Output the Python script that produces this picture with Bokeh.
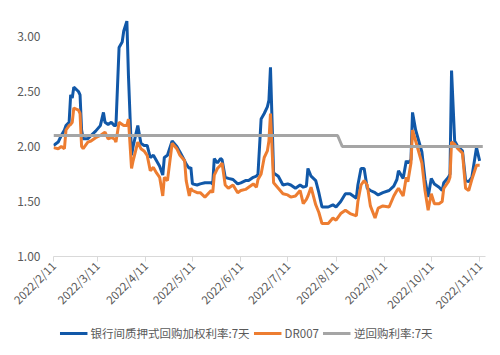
import math
import pandas as pd
from bokeh.plotting import figure
from bokeh.layouts import column
from bokeh.models import (Range1d, FixedTicker, CustomJSTickFormatter, NumeralTickFormatter,
                          Legend, LegendItem, ColumnDataSource)
from bokeh.embed import file_html
from bokeh.resources import INLINE

dates = ["2022-02-11", "2022-02-14", "2022-02-16", "2022-02-18", "2022-02-19", "2022-02-21",
         "2022-02-22", "2022-02-23", "2022-02-24", "2022-02-27", "2022-02-28", "2022-03-01",
         "2022-03-02", "2022-03-05", "2022-03-07", "2022-03-10", "2022-03-13", "2022-03-15",
         "2022-03-16", "2022-03-18", "2022-03-20", "2022-03-22", "2022-03-23", "2022-03-25",
         "2022-03-27", "2022-03-28", "2022-03-30", "2022-03-31", "2022-04-02", "2022-04-03",
         "2022-04-06", "2022-04-08", "2022-04-10", "2022-04-12", "2022-04-14", "2022-04-16",
         "2022-04-18", "2022-04-20", "2022-04-22", "2022-04-23", "2022-04-25", "2022-04-28",
         "2022-05-01", "2022-05-03", "2022-05-06", "2022-05-07", "2022-05-09", "2022-05-10",
         "2022-05-11", "2022-05-14", "2022-05-16", "2022-05-19", "2022-05-23", "2022-05-24",
         "2022-05-25", "2022-05-27", "2022-05-29", "2022-05-30", "2022-06-01", "2022-06-03",
         "2022-06-06", "2022-06-09", "2022-06-11", "2022-06-14", "2022-06-16", "2022-06-19",
         "2022-06-21", "2022-06-22", "2022-06-24", "2022-06-26", "2022-06-28", "2022-06-29",
         "2022-06-30", "2022-07-02", "2022-07-05", "2022-07-08", "2022-07-11", "2022-07-13",
         "2022-07-16", "2022-07-19", "2022-07-21", "2022-07-23", "2022-07-24", "2022-07-26",
         "2022-07-29", "2022-07-31", "2022-08-02", "2022-08-06", "2022-08-09", "2022-08-11",
         "2022-08-14", "2022-08-17", "2022-08-20", "2022-08-24", "2022-08-25", "2022-08-27",
         "2022-08-29", "2022-08-31", "2022-09-02", "2022-09-05", "2022-09-07", "2022-09-10",
         "2022-09-14", "2022-09-17", "2022-09-19", "2022-09-20", "2022-09-23", "2022-09-25",
         "2022-09-26", "2022-09-28", "2022-09-29", "2022-10-01", "2022-10-05", "2022-10-07",
         "2022-10-09", "2022-10-11", "2022-10-13", "2022-10-16", "2022-10-18", "2022-10-19",
         "2022-10-22", "2022-10-23", "2022-10-24", "2022-10-26", "2022-10-28", "2022-10-31",
         "2022-11-02", "2022-11-04", "2022-11-06", "2022-11-09", "2022-11-11"]

repo_7d = [2.01, 2.04, 2.10, 2.15, 2.19, 2.22,
           2.47, 2.44, 2.54, 2.50, 2.47, 2.15,
           2.07, 2.07, 2.10, 2.14, 2.19, 2.31,
           2.22, 2.20, 2.22, 2.19, 2.19, 2.90,
           2.95, 3.05, 3.14, 2.65, 1.92, 2.00,
           2.19, 2.03, 2.01, 2.01, 1.90, 1.92,
           1.87, 1.82, 1.74, 1.90, 1.92, 2.05,
           2.00, 1.95, 1.87, 1.84, 1.80, 1.81,
           1.66, 1.65, 1.66, 1.67, 1.67, 1.66,
           1.89, 1.85, 1.89, 1.88, 1.72, 1.71,
           1.70, 1.66, 1.67, 1.69, 1.69, 1.72,
           1.73, 1.75, 2.25, 2.30, 2.36, 2.42,
           2.72, 1.76, 1.73, 1.65, 1.66, 1.65,
           1.62, 1.65, 1.63, 1.64, 1.80, 1.73,
           1.69, 1.58, 1.45, 1.45, 1.47, 1.45,
           1.50, 1.57, 1.57, 1.53, 1.65, 1.80,
           1.80, 1.62, 1.60, 1.58, 1.56, 1.58,
           1.60, 1.64, 1.70, 1.78, 1.71, 1.87,
           1.85, 1.88, 2.31, 2.15, 1.95, 1.70,
           1.54, 1.71, 1.66, 1.63, 1.60, 1.67,
           1.72, 1.75, 2.69, 2.05, 2.00, 1.96,
           1.69, 1.68, 1.72, 1.99, 1.87]

dr007 = [1.99, 1.98, 2.00, 1.98, 2.15, 2.19,
         2.20, 2.22, 2.35, 2.33, 2.30, 2.00,
         1.98, 2.04, 2.05, 2.08, 2.10, 2.12,
         2.13, 2.07, 2.08, 2.07, 2.04, 2.22,
         2.20, 2.19, 2.19, 2.25, 1.80, 1.87,
         2.04, 1.98, 1.96, 1.92, 1.78, 1.81,
         1.76, 1.72, 1.55, 1.72, 1.69, 2.03,
         1.98, 1.92, 1.87, 1.69, 1.55, 1.62,
         1.60, 1.58, 1.58, 1.54, 1.60, 1.58,
         1.74, 1.80, 1.83, 1.85, 1.65, 1.62,
         1.65, 1.58, 1.60, 1.61, 1.63, 1.66,
         1.63, 1.70, 1.75, 1.90, 1.96, 2.05,
         2.30, 1.67, 1.62, 1.57, 1.56, 1.54,
         1.55, 1.60, 1.48, 1.52, 1.55, 1.63,
         1.47, 1.40, 1.30, 1.30, 1.35, 1.33,
         1.39, 1.42, 1.39, 1.37, 1.50, 1.65,
         1.69, 1.65, 1.46, 1.35, 1.44, 1.46,
         1.45, 1.55, 1.60, 1.62, 1.55, 1.72,
         1.68, 1.85, 2.15, 2.05, 1.85, 1.60,
         1.42, 1.57, 1.48, 1.48, 1.50, 1.62,
         1.68, 1.72, 2.04, 2.02, 1.98, 1.94,
         1.62, 1.60, 1.70, 1.83, 1.83]

rr_dates = ["2022-02-11", "2022-08-12", "2022-08-15", "2022-11-13"]
rr_rate = [2.10, 2.10, 2.00, 2.00]

tick_dates = ["2022-02-11", "2022-03-11", "2022-04-11", "2022-05-11", "2022-06-11",
              "2022-07-11", "2022-08-11", "2022-09-11", "2022-10-11", "2022-11-11"]
y_ticks = [1.0, 1.5, 2.0, 2.5, 3.0]

labels = ["银行间质押式回购加权利率:7天", "DR007", "逆回购利率:7天"]
colors = ["#1158A8", "#ED7D31", "#A5A5A5"]

FONT = "Noto Sans CJK SC"
TXT = "#595959"

src = ColumnDataSource(dict(x=pd.to_datetime(dates), a=repo_7d, b=dr007))
src_rr = ColumnDataSource(dict(x=pd.to_datetime(rr_dates), r=rr_rate))

def ms(s):
    return pd.Timestamp(s).value / 1e6

p = figure(frame_width=432, frame_height=242, x_axis_type="datetime", output_backend="svg",
           toolbar_location=None,
           x_range=Range1d(ms("2022-02-11"), ms("2022-11-14 18:00")),
           y_range=Range1d(1.0, 3.2),
           min_border_left=53, min_border_right=7, min_border_top=14, min_border_bottom=62)
p.outline_line_color = None
p.xgrid.grid_line_color = None
p.ygrid.grid_line_color = None
p.background_fill_color = "white"
p.border_fill_color = "white"

r1 = p.line("x", "a", source=src, color=colors[0], line_width=3)
r2 = p.line("x", "b", source=src, color=colors[1], line_width=3)
r3 = p.line("x", "r", source=src_rr, color=colors[2], line_width=3)

p.yaxis.ticker = FixedTicker(ticks=y_ticks)
p.yaxis.formatter = NumeralTickFormatter(format="0.00")
p.yaxis.axis_line_color = None
p.yaxis.major_tick_line_color = None
p.yaxis.minor_tick_line_color = None
p.yaxis.major_label_standoff = 7
p.yaxis.major_label_text_font = FONT
p.yaxis.major_label_text_font_size = "12px"
p.yaxis.major_label_text_color = TXT

p.xaxis.ticker = FixedTicker(ticks=[ms(d) for d in tick_dates])
p.xaxis.formatter = CustomJSTickFormatter(code="""
const d = new Date(tick);
return d.getUTCFullYear() + "/" + (d.getUTCMonth() + 1) + "/" + d.getUTCDate();
""")
p.xaxis.major_label_orientation = math.pi / 4
p.xaxis.axis_line_color = "#D9D9D9"
p.xaxis.major_tick_line_color = "#D9D9D9"
p.xaxis.major_tick_in = 0
p.xaxis.major_tick_out = 5
p.xaxis.minor_tick_line_color = None
p.xaxis.major_label_standoff = 2
p.xaxis.major_label_text_font = FONT
p.xaxis.major_label_text_font_size = "11.5px"
p.xaxis.major_label_text_color = TXT

# legend strip below the chart (its renderers use the same data, far outside its ranges)
p2 = figure(frame_width=492, frame_height=26, output_backend="svg", toolbar_location=None,
            x_range=Range1d(0, 1), y_range=Range1d(0, 1),
            x_axis_location=None, y_axis_location=None,
            min_border_left=0, min_border_right=0, min_border_top=0, min_border_bottom=0)
p2.outline_line_color = None
p2.xgrid.grid_line_color = None
p2.ygrid.grid_line_color = None
p2.border_fill_color = "white"
g1 = p2.line("x", "a", source=src, color=colors[0], line_width=3)
g2 = p2.line("x", "b", source=src, color=colors[1], line_width=3)
g3 = p2.line("x", "r", source=src_rr, color=colors[2], line_width=3)

legend = Legend(items=[LegendItem(label=labels[0], renderers=[g1]),
                       LegendItem(label=labels[1], renderers=[g2]),
                       LegendItem(label=labels[2], renderers=[g3])],
                orientation="horizontal", location="center",
                border_line_color=None, background_fill_alpha=0,
                label_text_font=FONT, label_text_font_size="11.5px",
                label_text_color=TXT, glyph_width=28, glyph_height=12,
                label_standoff=3, spacing=4, padding=0, margin=0)
p2.add_layout(legend, "center")

layout = column(p, p2, spacing=0)
open("out.html", "w").write(file_html(layout, INLINE))
